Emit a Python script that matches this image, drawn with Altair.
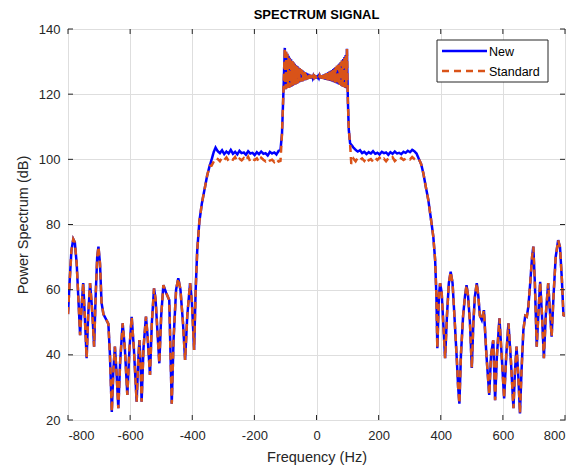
import altair as alt
import pandas as pd

# ---------------- data ----------------
tail_left_freq = [-800, -795, -789, -783, -778, -772, -766, -761, -756, -751, -746, -740, -735,
                  -729, -724, -720, -716, -711, -706, -702, -697, -692, -686, -678, -670, -665,
                  -659, -654, -649, -644, -638, -632, -624, -617, -609, -602, -595, -588, -579,
                  -574, -570, -566, -563, -557, -549, -544, -536, -530, -523, -518, -512, -506,
                  -500, -493, -484, -474, -470, -466, -460, -452, -445, -438, -430, -423, -416,
                  -407, -401, -394, -389, -384, -377, -369, -360, -352, -344]
tail_left_db = [52.5, 62, 72, 75.5, 74.5, 68, 56, 46, 55, 62, 52, 39, 52,
                62, 56, 50, 42.5, 58, 70, 73.2, 68, 56, 52.5, 51, 49.5, 40,
                22.5, 35, 42.5, 35, 23.6, 38, 49.7, 42, 27.7, 42, 51.7, 42, 25.6,
                38, 44.5, 36, 25.6, 42, 51.7, 46, 33.8, 50, 60.4, 57, 47, 37.4,
                52, 61.4, 59, 56.8, 40, 25, 45, 60, 63.5, 60, 50, 38.4, 52,
                62, 56, 41.5, 60, 72, 81, 86.5, 91, 95, 98]

plateau_left_freq = [-338, -331, -325, -318, -311, -304, -297, -290, -283, -276, -269, -262,
                     -255, -248, -241, -234, -227, -220, -213, -206, -199, -192, -185, -178,
                     -171, -164, -157, -150, -143, -136, -129, -122, -116]
plateau_left_new = [99.8, 102.2, 103.6, 102.5, 101.9, 102.8, 101.6, 102.4, 101.8, 102.9, 101.7,
                    102.3, 101.5, 102.6, 101.9, 102.1, 101.4, 102.5, 101.8, 102.0, 101.3, 102.2,
                    101.6, 102.4, 101.7, 101.9, 101.2, 102.3, 101.8, 102.1, 101.5, 102.6, 102.8]
plateau_left_std = [98.0, 99.3, 100.4, 100.1, 99.4, 100.5, 99.8, 100.6, 99.5, 100.3, 99.9,
                    100.7, 99.4, 100.2, 99.7, 100.4, 99.6, 100.8, 99.3, 100.1, 99.8, 100.3,
                    99.2, 100.5, 99.9, 99.4, 100.2, 99.6, 99.9, 99.2, 100.1, 99.3, 99.5]

# central band: both methods oscillate rapidly between the same envelopes
center_freq = [-111, -106, -102,
               -100, -98, -96, -94, -92, -90, -88, -86, -84, -82, -80, -78, -76, -74, -72, -70,
               -68, -66, -64, -62, -60, -58, -56, -54, -52, -50, -48, -46, -44, -42, -40, -38,
               -36, -34, -32, -30, -28, -26, -24, -22, -20, -18, -16, -14, -12, -10, -8, -6,
               -4, -2, 0, 2, 4, 6, 8, 10, 12, 14, 16, 18, 20, 22, 24, 26, 28, 30, 32, 34, 36,
               38, 40, 42, 44, 46, 48, 50, 52, 54, 56, 58, 60, 62, 64, 66, 68, 70, 72, 74, 76,
               78, 80, 82, 84, 86, 88, 90, 92, 94, 96, 98,
               101, 104, 108]
center_db = [108, 122, 134.2,
             121.5, 133.0, 121.8, 132.4, 121.9, 131.8, 122.0, 131.2, 122.2, 130.7, 122.4, 130.2,
             122.6, 129.7, 122.9, 129.3, 123.0, 128.9, 123.2, 128.6, 123.4, 128.2, 123.6, 127.9,
             123.8, 127.6, 123.9, 127.3, 124.0, 127.0, 124.2, 126.8, 124.3, 126.6, 124.5, 126.4,
             124.6, 126.2, 124.7, 126.0, 124.8, 125.9, 124.9, 125.8, 125.0, 125.6, 125.1, 125.5,
             125.2, 125.4, 125.2, 125.4, 125.1, 125.5, 125.0, 125.6, 124.9, 125.7, 124.8, 125.8,
             124.7, 126.0, 124.6, 126.1, 124.5, 126.3, 124.4, 126.5, 124.3, 126.7, 124.2, 126.9,
             124.1, 127.2, 124.0, 127.4, 123.8, 127.7, 123.7, 128.0, 123.5, 128.3, 123.4, 128.7,
             123.2, 129.0, 123.0, 129.4, 122.8, 129.8, 122.6, 130.3, 122.4, 130.8, 122.2, 131.4,
             122.0, 132.0, 121.8, 133.9,
             118, 109, 105]

plateau_right_freq = [112, 119, 126, 133, 140, 147, 154, 161, 168, 175, 182, 189, 196, 203, 210,
                      217, 224, 231, 238, 245, 252, 259, 266, 273, 280, 287, 294, 301, 308, 315, 322]
plateau_right_new = [104.5, 103.6, 102.9, 102.4, 102.8, 101.9, 102.3, 101.6, 102.2, 101.8, 102.5,
                     101.7, 102.0, 101.5, 102.3, 101.9, 102.1, 101.4, 102.2, 101.7, 102.4, 101.8,
                     102.0, 101.6, 102.3, 102.0, 102.6, 102.2, 102.9, 102.5, 101.8]
plateau_right_std = [98.6, 100.2, 99.4, 100.5, 99.8, 100.3, 99.5, 100.6, 99.7, 100.1, 99.3,
                     100.4, 99.8, 100.5, 99.6, 100.2, 99.4, 100.3, 99.9, 100.6, 99.5, 100.1,
                     99.7, 100.4, 99.8, 100.2, 100.5, 100.0, 100.7, 100.1, 99.6]

tail_right_freq = [330, 337, 344, 352, 360, 368, 376, 382, 386, 389, 394, 398, 403, 408, 414,
                   420, 426, 432, 438, 444, 452, 456, 460, 465, 472, 478, 483, 488, 494, 500,
                   505, 510, 516, 521, 526, 532, 539, 547, 556, 562, 569, 572, 575, 581, 589,
                   596, 604, 611, 618, 626, 634, 639, 644, 650, 655, 660, 666, 672, 677, 682,
                   688, 694, 698, 703, 709, 714, 720, 726, 732, 738, 746, 751, 757, 763, 770,
                   778, 784, 790, 795, 800]
tail_right_db = [100.0, 98.5, 95.7, 91.5, 87.5, 82, 76.3, 69, 58, 42, 58, 62, 59, 50, 39,
                 52, 62, 65.5, 62, 52, 38, 30, 25, 40, 52, 58, 61.4, 58, 50, 36,
                 50, 58, 62, 58, 52, 50.7, 53.7, 40, 27.7, 40, 44.5, 36, 26.1, 40, 51.2,
                 40, 26.6, 40, 49.7, 38, 23.6, 35, 42.5, 33, 22, 35, 47.6, 52, 51.7, 54.8,
                 62, 70, 73.2, 62, 42.5, 52, 62.4, 52, 39, 52, 62, 54, 45.6, 58, 70,
                 75.2, 73, 63, 52.2, 52]

x_ticks = [-800, -600, -400, -200, 0, 200, 400, 600, 800]
y_ticks = [20, 40, 60, 80, 100, 120, 140]
series_names = ["New", "Standard"]
series_colors = ["#0000FF", "#D95319"]
series_dash = [[1, 0], [7, 5]]

# ---------------- table ----------------
rows = []
def add(name, freqs, vals):
    for f, v in zip(freqs, vals):
        rows.append({"freq": f, "db": v, "series": name})

for name, pl, pr in [("New", plateau_left_new, plateau_right_new),
                     ("Standard", plateau_left_std, plateau_right_std)]:
    add(name, tail_left_freq, tail_left_db)
    add(name, plateau_left_freq, pl)
    add(name, center_freq, center_db)
    add(name, plateau_right_freq, pr)
    add(name, tail_right_freq, tail_right_db)

df = pd.DataFrame(rows)

W, H = 497, 391
FONT = "Liberation Sans"
AXC = "#262626"

xscale = alt.Scale(domain=[-800, 800], nice=False)
yscale = alt.Scale(domain=[20, 140], nice=False)

lines = alt.Chart(df).mark_line(strokeWidth=2.5, clip=True).encode(
    x=alt.X("freq:Q", scale=xscale,
            axis=alt.Axis(values=x_ticks, title="Frequency (Hz)", labelExpr="datum.value + ''")),
    y=alt.Y("db:Q", scale=yscale,
            axis=alt.Axis(values=y_ticks, title="Power Spectrum (dB)", labelExpr="datum.value + ''")),
    color=alt.Color("series:N", scale=alt.Scale(domain=series_names, range=series_colors), legend=None),
    strokeDash=alt.StrokeDash("series:N", scale=alt.Scale(domain=series_names, range=series_dash),
                              legend=None),
)

# inward tick marks (MATLAB style) at the tick values
xt = pd.DataFrame({"t": x_ticks})
yt = pd.DataFrame({"t": y_ticks})
tick_style = dict(color=AXC, strokeWidth=1)
ticks_bottom = alt.Chart(xt).mark_rule(**tick_style).encode(
    x=alt.X("t:Q", scale=xscale), y=alt.value(H - 5), y2=alt.value(H))
ticks_top = alt.Chart(xt).mark_rule(**tick_style).encode(
    x=alt.X("t:Q", scale=xscale), y=alt.value(0), y2=alt.value(5))
ticks_left = alt.Chart(yt).mark_rule(**tick_style).encode(
    y=alt.Y("t:Q", scale=yscale), x=alt.value(0), x2=alt.value(5))
ticks_right = alt.Chart(yt).mark_rule(**tick_style).encode(
    y=alt.Y("t:Q", scale=yscale), x=alt.value(W - 5), x2=alt.value(W))

# legend box (top right, inside the axes)
one = pd.DataFrame({"k": [0]})
lg_box = alt.Chart(one).mark_rect(fill="white", stroke=AXC, strokeWidth=1).encode(
    x=alt.value(369), x2=alt.value(480), y=alt.value(11), y2=alt.value(53))
lg_new = alt.Chart(one).mark_rule(color=series_colors[0], strokeWidth=2.5).encode(
    x=alt.value(374), x2=alt.value(419), y=alt.value(22))
lg_std = alt.Chart(one).mark_rule(color=series_colors[1], strokeWidth=2.5,
                                  strokeDash=series_dash[1]).encode(
    x=alt.value(374), x2=alt.value(419), y=alt.value(42))
lg_txt_new = alt.Chart(one).mark_text(align="left", baseline="middle", font=FONT,
                                      fontSize=12.5, color="black", text=series_names[0]).encode(
    x=alt.value(421), y=alt.value(22.5))
lg_txt_std = alt.Chart(one).mark_text(align="left", baseline="middle", font=FONT,
                                      fontSize=12.5, color="black", text=series_names[1]).encode(
    x=alt.value(421), y=alt.value(42.5))

chart = alt.layer(
    lines, ticks_bottom, ticks_top, ticks_left, ticks_right,
    lg_box, lg_new, lg_std, lg_txt_new, lg_txt_std
).properties(
    width=W, height=H,
    title=alt.Title("SPECTRUM SIGNAL", fontSize=13, fontWeight="bold", font=FONT,
                    color="black", offset=1, anchor="middle"),
    autosize=alt.AutoSizeParams(type="none"),
    padding={"left": 60, "top": 21, "right": 13, "bottom": 48},
).configure_view(
    stroke=AXC, strokeWidth=1
).configure_axis(
    grid=True, gridColor="#dedede", gridWidth=1,
    domain=False, ticks=False,
    labelFont=FONT, labelFontSize=13, labelColor=AXC,
    titleFont=FONT, titleFontSize=14.5, titleColor=AXC, titleFontWeight="normal",
).configure_axisX(
    labelPadding=9, titlePadding=8
).configure_axisY(
    labelPadding=8, titlePadding=8
)

chart.save("out.html", embed_options={"renderer": "svg", "actions": False})
